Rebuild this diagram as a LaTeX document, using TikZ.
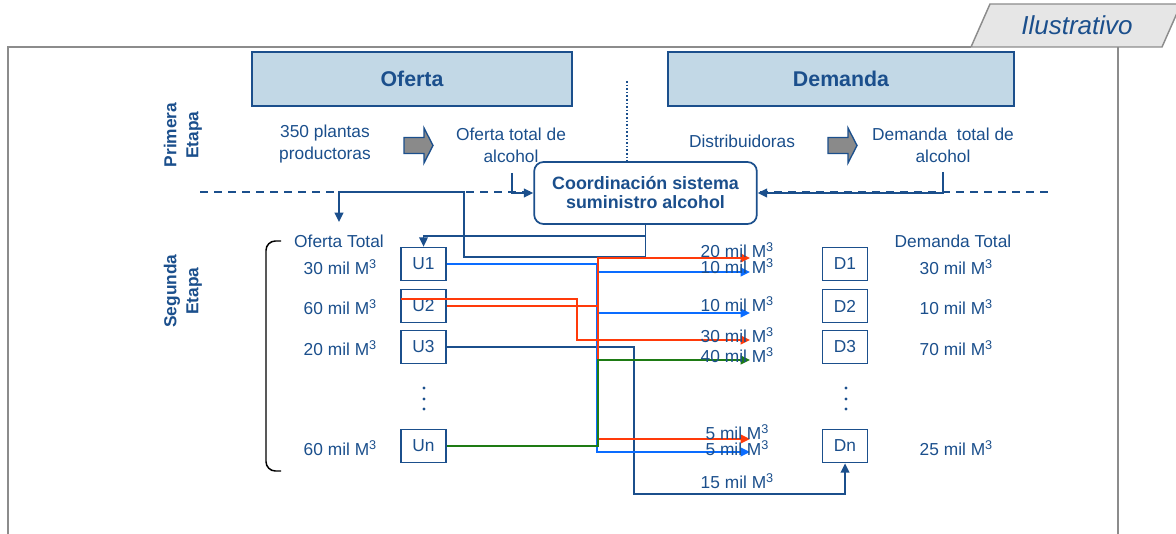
\documentclass[tikz,border=0pt]{standalone}
\usepackage{fontspec}
\setmainfont{Liberation Sans}
\usetikzlibrary{arrows.meta,calc}
\definecolor{navy}{HTML}{1B4F8C}
\definecolor{headfill}{HTML}{C2D8E6}
\definecolor{framegray}{HTML}{8C8C8C}
\definecolor{tabfill}{HTML}{E6E6E6}
\definecolor{arrowgray}{HTML}{8A8A8A}
\definecolor{flowred}{HTML}{FF3A0A}
\definecolor{flowblue}{HTML}{0A6CFF}
\definecolor{flowgreen}{HTML}{1E7B14}
% cubic metres
\newcommand\mcub{M\raisebox{0.36em}{\fontsize{9.5}{10}\selectfont 3}}
\begin{document}
\begin{tikzpicture}[x=0.75pt,y=-0.75pt,
  every node/.style={text=navy, inner sep=0pt, align=center},
  lbl/.style={font=\fontsize{13}{16.5}\selectfont},
  stage/.style={font=\bfseries\fontsize{13}{16.5}\selectfont, rotate=90},
  head/.style={draw=navy, fill=headfill, line width=1.3pt, minimum height=40.5pt,
    font=\bfseries\fontsize{16}{19}\selectfont},
  coordbox/.style={draw=navy, fill=white, line width=1.3pt, rounded corners=7pt,
    minimum width=167pt, minimum height=46.5pt,
    font=\bfseries\fontsize{13.4}{14.3}\selectfont},
  unit/.style={draw=navy, fill=white, line width=1.3pt, minimum width=33.75pt,
    minimum height=24.75pt, font=\fontsize{13}{15}\selectfont},
  tip/.style={-{Triangle[length=7pt,width=6.5pt]}},
  link/.style={draw=navy, line width=1.3pt},
  fred/.style={draw=flowred, line width=1.4pt},
  fblue/.style={draw=flowblue, line width=1.4pt},
  fgreen/.style={draw=flowgreen, line width=1.4pt},
  pics/blockarrow/.style={code={
    \filldraw[draw=navy, fill=arrowgray, line width=1pt]
      (0,-8) -- (20,-8) -- (20,-17.5) -- (29,0) -- (20,17.5) -- (20,8) -- (0,8) -- cycle;}}
]
\useasboundingbox (0,0) rectangle (1176,534);

% frame and tag
\draw[framegray, line width=1.1pt] (8,540) -- (8,47) -- (971,47);
\draw[framegray, line width=1.1pt] (1118,47) -- (1118,540);
\filldraw[draw=framegray, fill=tabfill, line width=1.1pt]
  (971,47) -- (990,4) -- (1181,4) -- (1162,47) -- cycle;
\node[font=\itshape\fontsize{19.5}{22}\selectfont] (tag) at (1077,25) {Ilustrativo};

% headers
\node[head, minimum width=240pt] (oferta) at (412,79) {Oferta};
\node[head, minimum width=259.5pt] (demanda) at (841,79) {Demanda};

% stages
\node[stage] (prim) at (183,135) {Primera\\Etapa};
\node[stage] (seg) at (183,291) {Segunda\\Etapa};

% first stage
\node[lbl] (plantas) at (325,144) {350 plantas\\productoras};
\pic (barr1) at (404,145.5) {blockarrow};
\node[lbl] (oftot) at (511,145) {Oferta total de\\alcohol};
\node[lbl] (dist) at (742,141) {Distribuidoras};
\pic (barr2) at (828,145.5) {blockarrow};
\node[lbl] (demtot) at (943,145) {Demanda~ total de\\alcohol};

% stage separator and coordinator
\coordinate (dashL) at (200,192);
\coordinate (dashR) at (1053,192);
\draw[navy, line width=1.2pt, dash pattern=on 6pt off 4.5pt] (dashL) -- (dashR);
\node[coordbox] (coord) at (645.5,193) {Coordinación sistema\\suministro alcohol};
\coordinate (dottop) at (627,81);
\draw[navy, line width=1.2pt, dash pattern=on 1.2pt off 1.5pt] (dottop) -- (dottop |- coord.north);

\coordinate (ofout) at (512,173);
\draw[link,tip] (ofout) |- (coord.west);
\coordinate (demout) at (943,172);
\draw[link,tip] (demout) |- (coord.east);

% second stage
\draw[black, line width=1.1pt, rounded corners=7pt] (281,241) -- (266,241) -- (266,471) -- (281,471);
\node[lbl] (oftotal) at (339,241) {Oferta Total};
\node[lbl] (s1) at (340,267) {30 mil \mcub};
\node[lbl] (s2) at (340,307) {60 mil \mcub};
\node[lbl] (s3) at (340,348) {20 mil \mcub};
\node[lbl] (sn) at (340,448) {60 mil \mcub};

\node[lbl] (demtotal) at (953,241) {Demanda Total};
\node[lbl] (d1v) at (956,267) {30 mil \mcub};
\node[lbl] (d2v) at (956,307) {10 mil \mcub};
\node[lbl] (d3v) at (956,348) {70 mil \mcub};
\node[lbl] (dnv) at (956,448) {25 mil \mcub};

\node[unit] (U1) at (423.5,264) {U1};
\node[unit] (U2) at (423.5,306) {U2};
\node[unit] (U3) at (423.5,347) {U3};
\node[unit] (Un) at (423.5,446) {Un};
\node[unit] (D1) at (845,264) {D1};
\node[unit] (D2) at (845,306) {D2};
\node[unit] (D3) at (845,347) {D3};
\node[unit] (Dn) at (845,446) {Dn};

\foreach \y in {388,399,409} {
  \fill[navy] (424,\y) circle (1.7);
  \fill[navy] (846,\y) circle (1.7);
}

% feedback from the coordinator
\coordinate (ofin) at (339,222);
\draw[link,tip] (coord.south) |- (464,257) |- (339,192) -- (ofin);
\coordinate (split) at (645.5,236);
\draw[link,tip] (split) -| (U1.north);

% flow end points
\coordinate (a20) at (750,258);
\coordinate (a10a) at (750,272);
\coordinate (a10b) at (750,313);
\coordinate (a30) at (750,340);
\coordinate (a40) at (750,360);
\coordinate (a5r) at (750,439);
\coordinate (a5b) at (750,452);

% flows
\draw[link,tip] (U3.east) -| (634,494) -| (Dn.south);
\draw[fblue,tip] (U1.east) -- (597,264) -- (597,452) -- (a5b);
\draw[fblue,tip] (597,272) -- (a10a);
\draw[fblue,tip] (597,313) -- (a10b);
\draw[fred] (U2.east) -- (598,306);
\draw[fred,tip] (598,439) -- (598,258) -- (a20);
\draw[fred,tip] (598,439) -- (a5r);
\draw[fred,tip] ($(U2.west)+(1,-7)$) -| (577,340) -- (a30);
\draw[fgreen,tip] (Un.east) -| (598,360) -- (a40);

% flow labels
\node[lbl] (f20) at (737,250) {20 mil \mcub};
\node[lbl] (f10a) at (737,266) {10 mil \mcub};
\node[lbl] (f10b) at (737,304) {10 mil \mcub};
\node[lbl] (f30) at (737,335) {30 mil \mcub};
\node[lbl] (f40) at (737,355) {40 mil \mcub};
\node[lbl] (f5a) at (737,432) {5 mil \mcub};
\node[lbl] (f5b) at (737,448) {5 mil \mcub};
\node[lbl] (f15) at (737,481) {15 mil \mcub};
\end{tikzpicture}
\end{document}
